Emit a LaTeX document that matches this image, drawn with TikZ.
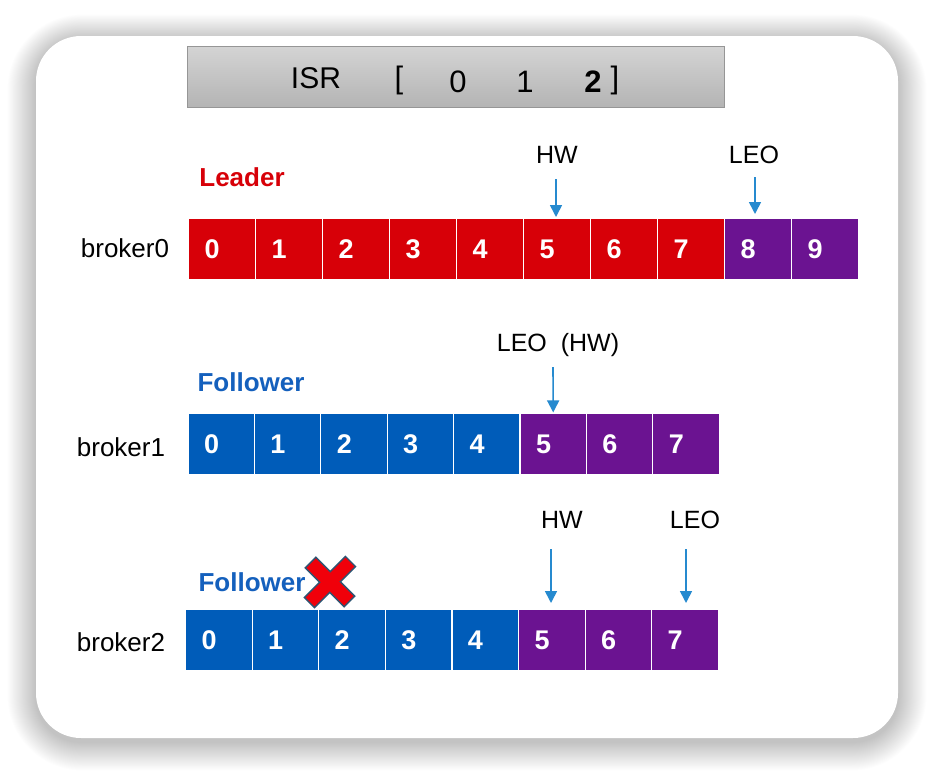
\documentclass[tikz,border=0pt]{standalone}
\usepackage{fontspec}
\setmainfont{Liberation Sans}
\usetikzlibrary{arrows.meta}
\definecolor{ldred}{RGB}{215,0,8}
\definecolor{flblue}{RGB}{0,92,185}
\definecolor{prp}{RGB}{107,19,145}
\definecolor{arrblue}{RGB}{38,138,207}
\definecolor{txtblue}{RGB}{20,96,189}
\definecolor{xred}{RGB}{240,0,10}
\definecolor{xedge}{RGB}{45,85,115}
\newcommand\cnum[2]{\hbox to #1pt{\hspace{16pt}#2\hfil}}
\begin{document}
\begin{tikzpicture}[x=1pt,y=-1pt,
  cell/.style={draw=white, line width=1.2pt, minimum height=62pt, inner sep=0pt, text=white,
     font=\fontsize{27}{30}\selectfont\bfseries},
  lbl/.style={inner sep=0pt, font=\fontsize{25}{28}\selectfont},
  broker/.style={inner sep=0pt, font=\fontsize{26}{30}\selectfont},
  role/.style={inner sep=0pt, font=\fontsize{26}{30}\selectfont\bfseries},
  arr/.style={draw=arrblue, line width=1.6pt, -{Triangle[width=12pt,length=12pt]}}]
\useasboundingbox (0,0) rectangle (934,774);
\fill[white] (0,0) rectangle (934,774);
% shadow
\foreach \i in {1,...,30}{
  \fill[black, opacity=0.0065, rounded corners=45pt+\i pt] (36-0.95*\i,40-0.85*\i) rectangle (898+0.95*\i,742+0.95*\i);
}
\node[draw=none, fill=white, rounded corners=45pt, minimum width=862pt, minimum height=702pt, inner sep=0pt] (card) at (467,387) {};
% ISR box
\node[draw={rgb,255:red,150;green,150;blue,150}, line width=0.8pt, top color={rgb,255:red,212;green,212;blue,212}, bottom color={rgb,255:red,180;green,180;blue,180}, minimum width=537pt, minimum height=61pt, inner sep=0pt] (isr) at (455.5,76.5) {};
\begin{scope}[every node/.style={inner sep=0pt, font=\fontsize{31}{34}\selectfont}]
\node (isrt) at (316,78) {\fontsize{30}{34}\selectfont ISR};
\node (lb) at (399,80) {[};
\node (i0) at (458,82) {0};
\node (i1) at (525,82) {1};
\node (i2) at (593,82) {\bfseries 2};
\node (rb) at (615,80) {]};
\end{scope}
% row 0
\node[role, text=ldred] (leader) at (242,177) {Leader};
\node[broker] (b0) at (125,248) {broker0};
\foreach \i in {0,...,9}{
  \ifnum\i<8 \def\cc{ldred}\else\def\cc{prp}\fi
  \node[cell, fill=\cc, minimum width=67pt] (c0-\i) at (222+67*\i,249) {\cnum{67}{\i}};
}
\node[lbl] (hw0) at (557,155) {HW};
\node[lbl] (leo0) at (754,155) {LEO};
\coordinate (hw0s) at (556,179);
\coordinate (leo0s) at (755,177);
\draw[arr] (hw0s) -- (556,217);
\draw[arr] (leo0s) -- (755,214);
% row 1
\node[role, text=txtblue] (f1) at (251,382) {Follower};
\node[broker] (b1) at (121,447) {broker1};
\foreach \i in {0,...,7}{
  \ifnum\i<5 \def\cc{flblue}\else\def\cc{prp}\fi
  \node[cell, fill=\cc, minimum width=66.4pt] (c1-\i) at (221.2+66.4*\i,444) {\cnum{66.4}{\i}};
}
\node[lbl] (leo1) at (558,345) {LEO\ \ (HW)};
\coordinate (leo1s) at (553,367);
\draw[arr] (leo1s) -- (c1-5.north);
% row 2
\node[role, text=txtblue] (f2) at (252,582) {Follower};
\node[broker] (b2) at (121,642) {broker2};
\foreach \i in {0,...,7}{
  \ifnum\i<5 \def\cc{flblue}\else\def\cc{prp}\fi
  \node[cell, fill=\cc, minimum width=66.6pt] (c2-\i) at (218.8+66.6*\i,640) {\cnum{66.6}{\i}};
}
\node[lbl] (hw2) at (562,520) {HW};
\node[lbl] (leo2) at (695,520) {LEO};
\coordinate (hw2s) at (551,549);
\coordinate (leo2s) at (686,549);
\draw[arr] (hw2s) -- (551,603);
\draw[arr] (leo2s) -- (686,603);
% red cross
\begin{scope}[shift={(330,582)}, rotate=45, yscale=0.95]
\draw[fill=xred, draw=xedge, line width=1.4pt, line join=miter]
  (7.5,-7.5) -- (7.5,-29) -- (-7.5,-29) -- (-7.5,-7.5) -- (-29,-7.5) -- (-29,7.5) --
  (-7.5,7.5) -- (-7.5,29) -- (7.5,29) -- (7.5,7.5) -- (29,7.5) -- (29,-7.5) -- cycle;
\end{scope}
\end{tikzpicture}
\end{document}
